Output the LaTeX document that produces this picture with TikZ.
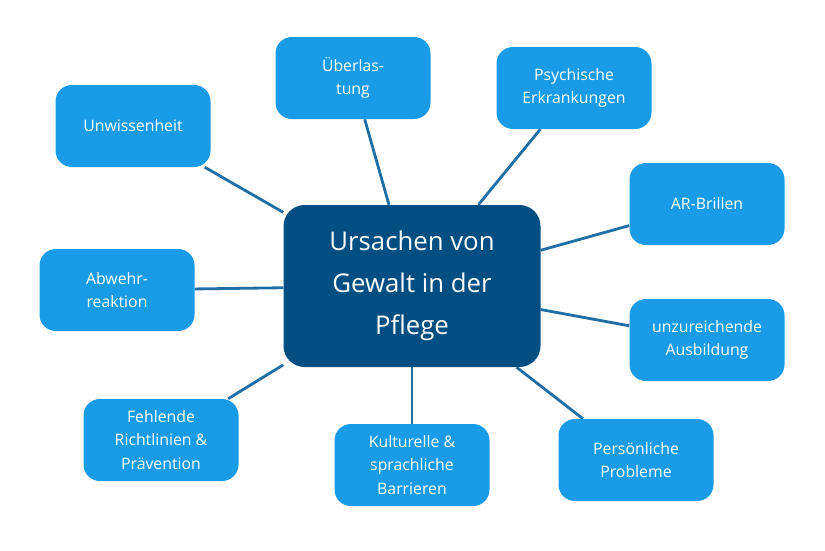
\documentclass[tikz,border=0pt]{standalone}
\usepackage{fontspec}
\setmainfont{Open Sans}
\usetikzlibrary{backgrounds}
\definecolor{boxblue}{HTML}{1A9BE8}
\definecolor{coreblue}{HTML}{004E82}
\definecolor{linkblue}{HTML}{1F6EA6}
\tikzset{
  cause/.style={rectangle,rounded corners=14pt,fill=boxblue,text=white,
    minimum width=155*0.03cm,minimum height=82*0.03cm,align=center,
    font=\fontsize{13.5}{20}\selectfont},
  core/.style={rectangle,rounded corners=18pt,fill=coreblue,text=white,
    minimum width=257*0.03cm,minimum height=162*0.03cm,align=center,
    font=\fontsize{22}{36}\selectfont},
  link/.style={draw=linkblue,line width=2.4pt}
}
\begin{document}
\begin{tikzpicture}[x=0.03cm,y=-0.03cm]
 \useasboundingbox (0,0) rectangle (825,550);
 \node[core] (core) at (412,286) {Ursachen von\\Gewalt in der\\Pflege};
 \node[cause] (over) at (353,78) {Überlas-\\tung};
 \node[cause] (psych) at (574,88) {Psychische\\Erkrankungen};
 \node[cause] (unwiss) at (133,126) {Unwissenheit};
 \node[cause] (ar) at (707,204) {AR-Brillen};
 \node[cause] (abwehr) at (117,290) {Abwehr-\\reaktion};
 \node[cause] (ausb) at (707,340) {unzureichende\\Ausbildung};
 \node[cause] (richt) at (161,440) {Fehlende\\Richtlinien \&\\Prävention};
 \node[cause] (kult) at (412,465) {Kulturelle \&\\sprachliche\\Barrieren};
 \node[cause] (pers) at (636,460) {Persönliche\\Probleme};
 \begin{scope}[on background layer]
  \foreach \n in {over,psych,unwiss,ar,abwehr,ausb,richt,kult,pers}
   \draw[link] (core) -- (\n);
 \end{scope}
\end{tikzpicture}
\end{document}
